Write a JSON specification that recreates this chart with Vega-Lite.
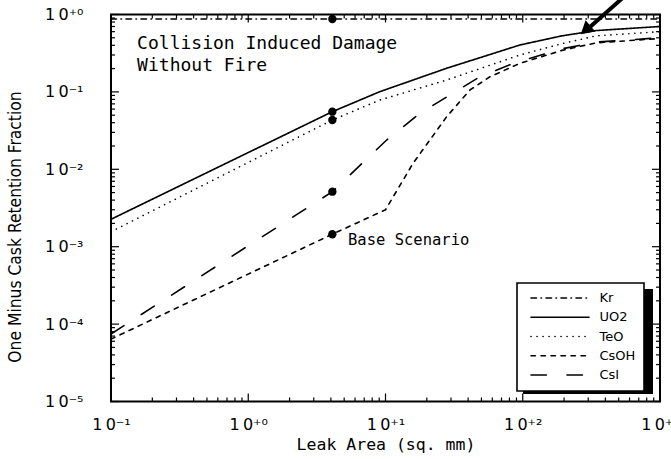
{
  "$schema": "https://vega.github.io/schema/vega-lite/v6.json",
  "width": 549,
  "height": 387,
  "autosize": {"type": "none"},
  "padding": {"left": 111, "top": 14.5, "right": 11, "bottom": 57.5},
  "background": "white",
  "config": {
    "view": {"stroke": "black", "strokeWidth": 2},
    "axis": {"grid": false, "domain": false, "tickColor": "transparent", "labelColor": "black", "titleColor": "black"},
    "tick": {"color": "black", "opacity": 1, "thickness": 1.2}
  },
  "datasets": {
    "curves": [
      {"species": "Kr", "area": 0.1, "frac": 0.875},
      {"species": "Kr", "area": 1000, "frac": 0.875},
      {"species": "UO2", "area": 0.1, "frac": 0.00226},
      {"species": "UO2", "area": 4.1, "frac": 0.0555},
      {"species": "UO2", "area": 9.1, "frac": 0.1007},
      {"species": "UO2", "area": 27.9, "frac": 0.202},
      {"species": "UO2", "area": 95.5, "frac": 0.404},
      {"species": "UO2", "area": 193, "frac": 0.53},
      {"species": "UO2", "area": 342, "frac": 0.62},
      {"species": "UO2", "area": 1000, "frac": 0.70},
      {"species": "TeO", "area": 0.1, "frac": 0.00156},
      {"species": "TeO", "area": 4.1, "frac": 0.0434},
      {"species": "TeO", "area": 9.1, "frac": 0.0786},
      {"species": "TeO", "area": 27.9, "frac": 0.1425},
      {"species": "TeO", "area": 95.5, "frac": 0.30},
      {"species": "TeO", "area": 193, "frac": 0.42},
      {"species": "TeO", "area": 342, "frac": 0.53},
      {"species": "TeO", "area": 1000, "frac": 0.60},
      {"species": "CsOH", "area": 0.1, "frac": 0.000064},
      {"species": "CsOH", "area": 4.1, "frac": 0.00145},
      {"species": "CsOH", "area": 10, "frac": 0.0030},
      {"species": "CsOH", "area": 15.9, "frac": 0.012},
      {"species": "CsOH", "area": 27.9, "frac": 0.0478},
      {"species": "CsOH", "area": 41.3, "frac": 0.106},
      {"species": "CsOH", "area": 57.7, "frac": 0.157},
      {"species": "CsOH", "area": 95.5, "frac": 0.234},
      {"species": "CsOH", "area": 193, "frac": 0.344},
      {"species": "CsOH", "area": 342, "frac": 0.43},
      {"species": "CsOH", "area": 1000, "frac": 0.49},
      {"species": "CsI", "area": 0.1, "frac": 0.0000745},
      {"species": "CsI", "area": 4.1, "frac": 0.00514},
      {"species": "CsI", "area": 10.2, "frac": 0.0239},
      {"species": "CsI", "area": 17.8, "frac": 0.0529},
      {"species": "CsI", "area": 29.5, "frac": 0.0912},
      {"species": "CsI", "area": 48.8, "frac": 0.157},
      {"species": "CsI", "area": 85.3, "frac": 0.234},
      {"species": "CsI", "area": 193, "frac": 0.36},
      {"species": "CsI", "area": 342, "frac": 0.44},
      {"species": "CsI", "area": 1000, "frac": 0.50}
    ],
    "base": [
      {"species": "Kr", "area": 4.1, "frac": 0.875},
      {"species": "UO2", "area": 4.1, "frac": 0.0555},
      {"species": "TeO", "area": 4.1, "frac": 0.0434},
      {"species": "CsI", "area": 4.1, "frac": 0.00514},
      {"species": "CsOH", "area": 4.1, "frac": 0.00145}
    ],
    "heading": [
      {"label": "Collision Induced Damage", "area": 0.155, "frac": 0.416},
      {"label": "Without Fire", "area": 0.155, "frac": 0.216}
    ],
    "note": [
      {"label": "Base Scenario", "area": 5.33, "frac": 0.00122}
    ],
    "pointer": [
      {"area": 575, "frac": 1.84, "area2": 292, "frac2": 0.63}
    ],
    "pointerHead": [
      {"area": 287, "frac": 0.63}
    ],
    "legendShadow": [
      {"area": 100.5, "area2": 889, "frac": 0.000284, "frac2": 0.0000125}
    ],
    "xDecades": [{"value": 0.1}, {"value": 1}, {"value": 10}, {"value": 100}, {"value": 1000}],
    "xMinors": [
      {"value": 0.2}, {"value": 0.3}, {"value": 0.4}, {"value": 0.5}, {"value": 0.6}, {"value": 0.7}, {"value": 0.8}, {"value": 0.9},
      {"value": 2}, {"value": 3}, {"value": 4}, {"value": 5}, {"value": 6}, {"value": 7}, {"value": 8}, {"value": 9},
      {"value": 20}, {"value": 30}, {"value": 40}, {"value": 50}, {"value": 60}, {"value": 70}, {"value": 80}, {"value": 90},
      {"value": 200}, {"value": 300}, {"value": 400}, {"value": 500}, {"value": 600}, {"value": 700}, {"value": 800}, {"value": 900}
    ],
    "yDecades": [{"value": 0.00001}, {"value": 0.0001}, {"value": 0.001}, {"value": 0.01}, {"value": 0.1}, {"value": 1}],
    "yMinors": [
      {"value": 0.00002}, {"value": 0.00003}, {"value": 0.00004}, {"value": 0.00005}, {"value": 0.00006}, {"value": 0.00007}, {"value": 0.00008}, {"value": 0.00009},
      {"value": 0.0002}, {"value": 0.0003}, {"value": 0.0004}, {"value": 0.0005}, {"value": 0.0006}, {"value": 0.0007}, {"value": 0.0008}, {"value": 0.0009},
      {"value": 0.002}, {"value": 0.003}, {"value": 0.004}, {"value": 0.005}, {"value": 0.006}, {"value": 0.007}, {"value": 0.008}, {"value": 0.009},
      {"value": 0.02}, {"value": 0.03}, {"value": 0.04}, {"value": 0.05}, {"value": 0.06}, {"value": 0.07}, {"value": 0.08}, {"value": 0.09},
      {"value": 0.2}, {"value": 0.3}, {"value": 0.4}, {"value": 0.5}, {"value": 0.6}, {"value": 0.7}, {"value": 0.8}, {"value": 0.9}
    ]
  },
  "resolve": {"axis": {"x": "independent", "y": "independent"}},
  "layer": [
    {
      "data": {"name": "legendShadow"},
      "mark": {"type": "rect", "fill": "black"},
      "encoding": {
        "x": {"field": "area", "type": "quantitative", "scale": {"type": "log", "domain": [0.1, 1000], "nice": false}, "axis": null},
        "x2": {"field": "area2"},
        "y": {"field": "frac", "type": "quantitative", "scale": {"type": "log", "domain": [0.00001, 1], "nice": false}, "axis": null},
        "y2": {"field": "frac2"}
      }
    },
    {
      "data": {"name": "curves"},
      "mark": {"type": "line", "color": "black", "strokeWidth": 1.6, "strokeCap": "round"},
      "encoding": {
        "x": {
          "field": "area", "type": "quantitative",
          "scale": {"type": "log", "domain": [0.1, 1000], "nice": false},
          "axis": {
            "orient": "bottom",
            "values": [0.1, 1, 10, 100, 1000],
            "tickSize": -8,
            "labelExpr": "'1\u20090' + (round(log(datum.value)/LN10) < 0 ? '⁻' : '⁺') + ['⁰','¹','²','³','⁴','⁵'][abs(round(log(datum.value)/LN10))]",
            "labelOverlap": false,
            "labelFlush": false,
            "labelFont": "DejaVu Sans",
            "labelFontSize": 16,
            "labelPadding": 23,
            "labelDx": -6,
            "title": "Leak Area (sq. mm)",
            "titleFont": "DejaVu Sans Mono",
            "titleFontSize": 16.5,
            "titleFontWeight": "normal",
            "titlePadding": 4
          }
        },
        "y": {
          "field": "frac", "type": "quantitative",
          "scale": {"type": "log", "domain": [0.00001, 1], "nice": false},
          "axis": {
            "orient": "left",
            "values": [0.00001, 0.0001, 0.001, 0.01, 0.1, 1],
            "tickSize": -8,
            "labelExpr": "'1\u20090' + (round(log(datum.value)/LN10) < 0 ? '⁻' : '⁺') + ['⁰','¹','²','³','⁴','⁵'][abs(round(log(datum.value)/LN10))]",
            "labelOverlap": false,
            "labelFlush": false,
            "labelFont": "DejaVu Sans",
            "labelFontSize": 16,
            "labelPadding": 36,
            "labelDy": 2,
            "title": "One Minus Cask Retention Fraction",
            "titleFont": "DejaVu Sans Condensed, DejaVu Sans, sans-serif",
            "titleFontSize": 17.3,
            "titleFontWeight": "normal",
            "titleAngle": 270,
            "titleAlign": "center",
            "titleBaseline": "middle",
            "titleX": -96,
            "titleY": 212
          }
        },
        "strokeDash": {
          "field": "species", "type": "nominal",
          "scale": {
            "domain": ["Kr", "UO2", "TeO", "CsOH", "CsI"],
            "range": [[5.5, 4.5, 0.5, 4.5], [1, 0], [0.1, 5.9], [4.4, 5.6], [15.4, 20.6]]
          },
          "legend": {
            "title": null,
            "orient": "none",
            "legendX": 406,
            "legendY": 268.5,
            "symbolType": "stroke",
            "symbolSize": 3364,
            "symbolStrokeWidth": 1.6,
            "symbolStrokeColor": "black",
            "symbolOffset": 4.5,
            "clipHeight": 13,
            "labelFont": "DejaVu Sans",
            "labelFontSize": 13,
            "labelColor": "black",
            "labelOffset": 9.5,
            "padding": 8.5,
            "rowPadding": 5.25,
            "fillColor": "white",
            "strokeColor": "black",
            "encode": {
              "legend": {"update": {"strokeWidth": {"value": 1.6}}},
              "symbols": {"update": {"strokeCap": {"value": "round"}}}
            }
          }
        }
      }
    },
    {
      "data": {"name": "xDecades"},
      "mark": {"type": "tick", "orient": "vertical", "size": 8, "yOffset": -4},
      "encoding": {
        "x": {"field": "value", "type": "quantitative", "scale": {"type": "log", "domain": [0.1, 1000], "nice": false}, "axis": null},
        "y": {"datum": 0.00001, "type": "quantitative", "scale": {"type": "log", "domain": [0.00001, 1], "nice": false}, "axis": null}
      }
    },
    {
      "data": {"name": "xMinors"},
      "mark": {"type": "tick", "orient": "vertical", "size": 4, "yOffset": -2},
      "encoding": {
        "x": {"field": "value", "type": "quantitative", "scale": {"type": "log", "domain": [0.1, 1000], "nice": false}, "axis": null},
        "y": {"datum": 0.00001, "type": "quantitative", "scale": {"type": "log", "domain": [0.00001, 1], "nice": false}, "axis": null}
      }
    },
    {
      "data": {"name": "xDecades"},
      "mark": {"type": "tick", "orient": "vertical", "size": 8, "yOffset": 4},
      "encoding": {
        "x": {"field": "value", "type": "quantitative", "scale": {"type": "log", "domain": [0.1, 1000], "nice": false}, "axis": null},
        "y": {"datum": 1, "type": "quantitative", "scale": {"type": "log", "domain": [0.00001, 1], "nice": false}, "axis": null}
      }
    },
    {
      "data": {"name": "xMinors"},
      "mark": {"type": "tick", "orient": "vertical", "size": 4, "yOffset": 2},
      "encoding": {
        "x": {"field": "value", "type": "quantitative", "scale": {"type": "log", "domain": [0.1, 1000], "nice": false}, "axis": null},
        "y": {"datum": 1, "type": "quantitative", "scale": {"type": "log", "domain": [0.00001, 1], "nice": false}, "axis": null}
      }
    },
    {
      "data": {"name": "yDecades"},
      "mark": {"type": "tick", "orient": "horizontal", "size": 8, "xOffset": 4},
      "encoding": {
        "y": {"field": "value", "type": "quantitative", "scale": {"type": "log", "domain": [0.00001, 1], "nice": false}, "axis": null},
        "x": {"datum": 0.1, "type": "quantitative", "scale": {"type": "log", "domain": [0.1, 1000], "nice": false}, "axis": null}
      }
    },
    {
      "data": {"name": "yMinors"},
      "mark": {"type": "tick", "orient": "horizontal", "size": 4, "xOffset": 2},
      "encoding": {
        "y": {"field": "value", "type": "quantitative", "scale": {"type": "log", "domain": [0.00001, 1], "nice": false}, "axis": null},
        "x": {"datum": 0.1, "type": "quantitative", "scale": {"type": "log", "domain": [0.1, 1000], "nice": false}, "axis": null}
      }
    },
    {
      "data": {"name": "yDecades"},
      "mark": {"type": "tick", "orient": "horizontal", "size": 8, "xOffset": -4},
      "encoding": {
        "y": {"field": "value", "type": "quantitative", "scale": {"type": "log", "domain": [0.00001, 1], "nice": false}, "axis": null},
        "x": {"datum": 1000, "type": "quantitative", "scale": {"type": "log", "domain": [0.1, 1000], "nice": false}, "axis": null}
      }
    },
    {
      "data": {"name": "yMinors"},
      "mark": {"type": "tick", "orient": "horizontal", "size": 4, "xOffset": -2},
      "encoding": {
        "y": {"field": "value", "type": "quantitative", "scale": {"type": "log", "domain": [0.00001, 1], "nice": false}, "axis": null},
        "x": {"datum": 1000, "type": "quantitative", "scale": {"type": "log", "domain": [0.1, 1000], "nice": false}, "axis": null}
      }
    },
    {
      "data": {"name": "base"},
      "mark": {"type": "point", "filled": true, "color": "black", "opacity": 1, "size": 70},
      "encoding": {
        "x": {"field": "area", "type": "quantitative", "scale": {"type": "log", "domain": [0.1, 1000], "nice": false}, "axis": null},
        "y": {"field": "frac", "type": "quantitative", "scale": {"type": "log", "domain": [0.00001, 1], "nice": false}, "axis": null}
      }
    },
    {
      "data": {"name": "heading"},
      "mark": {"type": "text", "font": "DejaVu Sans Mono", "fontSize": 18, "align": "left", "baseline": "middle", "color": "black"},
      "encoding": {
        "x": {"field": "area", "type": "quantitative", "scale": {"type": "log", "domain": [0.1, 1000], "nice": false}, "axis": null},
        "y": {"field": "frac", "type": "quantitative", "scale": {"type": "log", "domain": [0.00001, 1], "nice": false}, "axis": null},
        "text": {"field": "label"}
      }
    },
    {
      "data": {"name": "note"},
      "mark": {"type": "text", "font": "DejaVu Sans Mono", "fontSize": 15.5, "align": "left", "baseline": "middle", "color": "black"},
      "encoding": {
        "x": {"field": "area", "type": "quantitative", "scale": {"type": "log", "domain": [0.1, 1000], "nice": false}, "axis": null},
        "y": {"field": "frac", "type": "quantitative", "scale": {"type": "log", "domain": [0.00001, 1], "nice": false}, "axis": null},
        "text": {"field": "label"}
      }
    },
    {
      "data": {"name": "pointer"},
      "mark": {"type": "rule", "color": "black", "strokeWidth": 4},
      "encoding": {
        "x": {"field": "area", "type": "quantitative", "scale": {"type": "log", "domain": [0.1, 1000], "nice": false}, "axis": null},
        "y": {"field": "frac", "type": "quantitative", "scale": {"type": "log", "domain": [0.00001, 1], "nice": false}, "axis": null},
        "x2": {"field": "area2"},
        "y2": {"field": "frac2"}
      }
    },
    {
      "data": {"name": "pointerHead"},
      "mark": {"type": "point", "shape": "triangle-up", "filled": true, "color": "black", "opacity": 1, "size": 220, "angle": 229},
      "encoding": {
        "x": {"field": "area", "type": "quantitative", "scale": {"type": "log", "domain": [0.1, 1000], "nice": false}, "axis": null},
        "y": {"field": "frac", "type": "quantitative", "scale": {"type": "log", "domain": [0.00001, 1], "nice": false}, "axis": null}
      }
    }
  ]
}
